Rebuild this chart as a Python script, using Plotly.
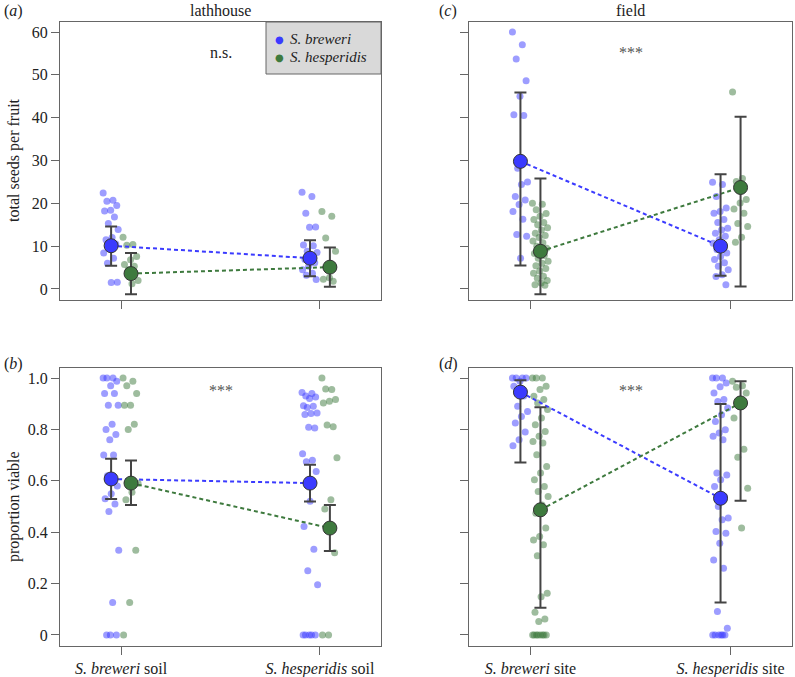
import plotly.graph_objects as go

# ---------------- data ----------------
categories = [1, 2]
soil_labels = ["<i>S. breweri</i> soil", "<i>S. hesperidis</i> soil"]
site_labels = ["<i>S. breweri</i> site", "<i>S. hesperidis</i> site"]
seed_ticks = [0, 10, 20, 30, 40, 50, 60]
prop_ticks = [0, 0.2, 0.4, 0.6, 0.8, 1.0]
prop_ticktext = ["0", "0.2", "0.4", "0.6", "0.8", "1.0"]
species = ["<i>S. breweri</i>", "<i>S. hesperidis</i>"]

# (a) lathhouse, total seeds per fruit
a_brew_1 = [22.4, 20.7, 20.5, 19.5, 18.4, 18.2, 16.8, 15.3, 13.9, 12.0, 11.5, 10.5, 9.5, 8.4, 7.2, 6.0, 1.6, 1.5]
a_hesp_1 = [12.1, 10.4, 10.2, 7.6, 6.8, 5.7, 5.3, 4.5, 2.0, 1.2]
a_brew_2 = [22.6, 21.6, 17.7, 14.5, 14.4, 10.3, 10.1, 8.8, 8.5, 7.7, 6.9, 6.1, 5.3, 4.5, 3.7, 3.2, 2.2]
a_hesp_2 = [18.1, 17.0, 11.9, 8.8, 2.6, 2.3, 1.8]
a_mean_brew = [10.1, 7.2]
a_lo_brew = [5.4, 3.0]
a_hi_brew = [14.6, 11.4]
a_mean_hesp = [3.6, 5.1]
a_lo_hesp = [-1.2, 0.5]
a_hi_hesp = [8.4, 9.7]

# (c) field, total seeds per fruit
c_brew_1 = [60.0, 57.0, 53.7, 48.6, 45.0, 40.7, 40.5, 28.2, 25.0, 24.4, 21.6, 20.8, 19.7, 18.1, 16.3, 12.7, 12.3, 7.2]
c_hesp_1 = [20.0, 19.8, 18.5, 17.6, 17.0, 16.2, 15.5, 15.0, 14.3, 13.8, 13.0, 12.5, 12.0, 11.2, 10.8, 10.0,
            9.5, 9.0, 8.3, 7.8, 7.2, 6.5, 6.0, 5.4, 4.8, 4.2, 3.7, 3.0, 2.5, 2.0, 1.4, 1.0, 0.9]
c_brew_2 = [24.9, 24.4, 21.6, 18.9, 18.1, 17.7, 16.2, 15.5, 14.2, 13.8, 13.0, 12.3, 11.5, 10.7, 10.0, 9.2,
            8.4, 7.6, 6.9, 6.1, 5.3, 4.5, 3.3, 2.9, 1.0]
c_hesp_2 = [46.0, 25.8, 25.1, 20.9, 20.1, 18.7, 17.7, 15.3, 14.6, 12.1, 10.9]
c_mean_brew = [29.8, 10.0]
c_lo_brew = [5.5, 3.1]
c_hi_brew = [45.9, 26.8]
c_mean_hesp = [8.8, 23.7]
c_lo_hesp = [-1.2, 0.6]
c_hi_hesp = [25.8, 40.2]

# (b) lathhouse, proportion viable
b_brew_1 = [1.0, 1.0, 1.0, 0.987, 0.97, 0.94, 0.94, 0.894, 0.894, 0.82, 0.80, 0.78, 0.76, 0.70, 0.70,
            0.62, 0.58, 0.55, 0.53, 0.51, 0.48, 0.33, 0.126, 0.0, 0.0, 0.0]
b_hesp_1 = [1.0, 0.987, 0.97, 0.94, 0.894, 0.894, 0.82, 0.80, 0.59, 0.555, 0.526, 0.33, 0.126, 0.0]
b_brew_2 = [0.944, 0.94, 0.93, 0.926, 0.92, 0.892, 0.89, 0.885, 0.864, 0.862, 0.858, 0.805, 0.808,
            0.705, 0.68, 0.674, 0.636, 0.52, 0.422, 0.334, 0.25, 0.195, 0.0, 0.0, 0.0, 0.0, 0.0]
b_hesp_2 = [1.0, 0.955, 0.957, 0.916, 0.91, 0.903, 0.81, 0.817, 0.69, 0.526, 0.49, 0.32, 0.0, 0.0]
b_mean_brew = [0.607, 0.591]
b_lo_brew = [0.529, 0.519]
b_hi_brew = [0.686, 0.662]
b_mean_hesp = [0.591, 0.416]
b_lo_hesp = [0.506, 0.327]
b_hi_hesp = [0.679, 0.506]

# (d) field, proportion viable
d_brew_1 = [1.0, 1.0, 1.0, 1.0, 0.987, 0.968, 0.93, 0.89, 0.87, 0.85, 0.825, 0.79, 0.76, 0.736]
d_hesp_1 = [1.0, 1.0, 1.0, 0.968, 0.955, 0.929, 0.916, 0.903, 0.877, 0.844, 0.818, 0.792, 0.773,
            0.753, 0.747, 0.701, 0.656, 0.630, 0.604, 0.578, 0.558, 0.539, 0.506, 0.474, 0.416,
            0.383, 0.370, 0.351, 0.308, 0.162, 0.149, 0.088, 0.062, 0.052, 0.0, 0.0, 0.0, 0.0,
            0.0, 0.0, 0.0, 0.0]
d_brew_2 = [1.0, 1.0, 1.0, 0.981, 0.966, 0.942, 0.916, 0.909, 0.883, 0.857, 0.831, 0.799, 0.786,
            0.773, 0.760, 0.630, 0.623, 0.604, 0.578, 0.539, 0.5, 0.455, 0.448, 0.403, 0.396,
            0.357, 0.292, 0.260, 0.091, 0.026, 0.0, 0.0, 0.0, 0.0, 0.0, 0.0]
d_hesp_2 = [0.987, 0.970, 0.964, 0.942, 0.916, 0.844, 0.723, 0.692, 0.571, 0.416]
d_mean_brew = [0.945, 0.532]
d_lo_brew = [0.671, 0.126]
d_hi_brew = [0.991, 0.899]
d_mean_hesp = [0.487, 0.903]
d_lo_hesp = [0.106, 0.522]
d_hi_hesp = [0.886, 0.987]

# ---------------- style ----------------
FONT = "Liberation Serif"
FS = 16
BLUE = "#3b3bff"
GREEN = "#3e7a3e"
BLUE_PT = "rgba(60,60,255,0.5)"
GREEN_PT = "rgba(62,122,62,0.5)"
AXC = "#666666"
ERR = "#444444"
OFF = 0.05


def jitter(n):
    return [(((i * 0.6180339887) % 1.0) - 0.5) * 0.08 for i in range(n)]


fig = go.Figure()


def add_panel(ax, groups_b, groups_h, mb, lb, hb, mh, lh, hh):
    xa = "x" + ax
    ya = "y" + ax
    for ci, (vals_b, vals_h) in enumerate(zip(groups_b, groups_h)):
        cx = categories[ci]
        jb = jitter(len(vals_b))
        jh = jitter(len(vals_h))
        fig.add_trace(go.Scatter(x=[cx - OFF + j for j in jb], y=vals_b, mode="markers",
                                 marker=dict(size=7, color=BLUE_PT, line=dict(width=0)),
                                 xaxis=xa, yaxis=ya, showlegend=False, hoverinfo="y"))
        fig.add_trace(go.Scatter(x=[cx + OFF + j for j in jh], y=vals_h, mode="markers",
                                 marker=dict(size=7, color=GREEN_PT, line=dict(width=0)),
                                 xaxis=xa, yaxis=ya, showlegend=False, hoverinfo="y"))
    xb = [c - OFF for c in categories]
    xh = [c + OFF for c in categories]
    fig.add_trace(go.Scatter(x=xb, y=mb, mode="lines", line=dict(color=BLUE, width=2, dash="4px,3px"),
                             xaxis=xa, yaxis=ya, showlegend=False, hoverinfo="skip"))
    fig.add_trace(go.Scatter(x=xh, y=mh, mode="lines", line=dict(color=GREEN, width=2, dash="4px,3px"),
                             xaxis=xa, yaxis=ya, showlegend=False, hoverinfo="skip"))
    for xs, m, lo, hi, col in [(xb, mb, lb, hb, BLUE), (xh, mh, lh, hh, GREEN)]:
        fig.add_trace(go.Scatter(
            x=xs, y=m, mode="markers",
            marker=dict(size=14, color=col, line=dict(color="#333333", width=1)),
            error_y=dict(type="data", symmetric=False,
                         array=[h - v for h, v in zip(hi, m)],
                         arrayminus=[v - l for v, l in zip(m, lo)],
                         color=ERR, thickness=2, width=6),
            xaxis=xa, yaxis=ya, showlegend=False))


add_panel("", [a_brew_1, a_brew_2], [a_hesp_1, a_hesp_2], a_mean_brew, a_lo_brew, a_hi_brew,
          a_mean_hesp, a_lo_hesp, a_hi_hesp)
add_panel("2", [c_brew_1, c_brew_2], [c_hesp_1, c_hesp_2], c_mean_brew, c_lo_brew, c_hi_brew,
          c_mean_hesp, c_lo_hesp, c_hi_hesp)
add_panel("3", [b_brew_1, b_brew_2], [b_hesp_1, b_hesp_2], b_mean_brew, b_lo_brew, b_hi_brew,
          b_mean_hesp, b_lo_hesp, b_hi_hesp)
add_panel("4", [d_brew_1, d_brew_2], [d_hesp_1, d_hesp_2], d_mean_brew, d_lo_brew, d_hi_brew,
          d_mean_hesp, d_lo_hesp, d_hi_hesp)

W, H = 795, 677
xl = [60 / W, 381 / W]
xr = [469 / W, 792 / W]
yt = [1 - 300 / H, 1 - 22 / H]
yb = [1 - 646 / H, 1 - 368 / H]
XR = [0.693, 2.307]

common_x = dict(range=XR, tickvals=categories, ticks="outside", ticklen=8, tickcolor=AXC,
                showline=True, mirror=True, linecolor=AXC, linewidth=1, showgrid=False,
                zeroline=False, tickfont=dict(family=FONT, size=FS, color="#222"))
common_y = dict(ticks="outside", ticklen=8, tickcolor=AXC, showline=True, mirror=True,
                linecolor=AXC, linewidth=1, showgrid=False, zeroline=False,
                tickfont=dict(family=FONT, size=FS, color="#222"))

fig.update_layout(
    width=W, height=H, margin=dict(l=0, r=0, t=0, b=0),
    plot_bgcolor="white", paper_bgcolor="white",
    font=dict(family=FONT, size=FS, color="#222"),
    xaxis=dict(domain=xl, anchor="y", showticklabels=False, **common_x),
    yaxis=dict(domain=yt, anchor="x", range=[-2.57, 62.34], tickvals=seed_ticks, **common_y),
    xaxis2=dict(domain=xr, anchor="y2", showticklabels=False, **common_x),
    yaxis2=dict(domain=yt, anchor="x2", range=[-2.57, 62.34], tickvals=seed_ticks,
                showticklabels=False, **common_y),
    xaxis3=dict(domain=xl, anchor="y3", ticktext=soil_labels, **common_x),
    yaxis3=dict(domain=yb, anchor="x3", range=[-0.043, 1.039], tickvals=prop_ticks,
                ticktext=prop_ticktext, **common_y),
    xaxis4=dict(domain=xr, anchor="y4", ticktext=site_labels, **common_x),
    yaxis4=dict(domain=yb, anchor="x4", range=[-0.043, 1.039], tickvals=prop_ticks,
                showticklabels=False, **common_y),
    showlegend=False,
)

# custom legend box (panel a, top-right corner)
fig.add_shape(type="rect", xref="paper", yref="paper",
              x0=266 / W, x1=381 / W, y0=1 - 74 / H, y1=1 - 22 / H,
              fillcolor="#d9d9d9", line=dict(color=AXC, width=1), layer="above")


def pa(text, px, py, **kw):
    d = dict(text=text, x=px / W, y=1 - py / H, xref="paper", yref="paper",
             xanchor="center", yanchor="middle", showarrow=False)
    d.update(kw)
    return d


ann = [
    pa("lathhouse", (60 + 381) / 2, 10),
    pa("field", (469 + 792) / 2, 10),
    pa("(<i>a</i>)", 13, 11),
    pa("(<i>c</i>)", 448, 11),
    pa("(<i>b</i>)", 13, 364),
    pa("(<i>d</i>)", 448, 364),
    pa("total seeds per fruit", 14, 160, textangle=-90),
    pa("proportion viable", 14, 507, textangle=-90),
    dict(text="n.s.", x=1.5, y=55.3, xref="x", yref="y", showarrow=False),
    dict(text="***", x=1.5, y=55.3, xref="x2", yref="y2", showarrow=False, font=dict(color="#555")),
    dict(text="***", x=1.5, y=0.95, xref="x3", yref="y3", showarrow=False, font=dict(color="#555")),
    dict(text="***", x=1.5, y=0.95, xref="x4", yref="y4", showarrow=False, font=dict(color="#555")),
]
leg_cols = [BLUE, GREEN]
leg_y = [39, 57]
for name, col, ly in zip(species, leg_cols, leg_y):
    ann.append(pa("●", 279, ly, font=dict(color=col, size=10, family="DejaVu Sans")))
    ann.append(pa(name, 288, ly, xanchor="left", font=dict(size=15)))
fig.update_layout(annotations=ann)

fig.write_html("out.html", config={"displayModeBar": False},
               post_script="document.body.style.margin='0px';")
